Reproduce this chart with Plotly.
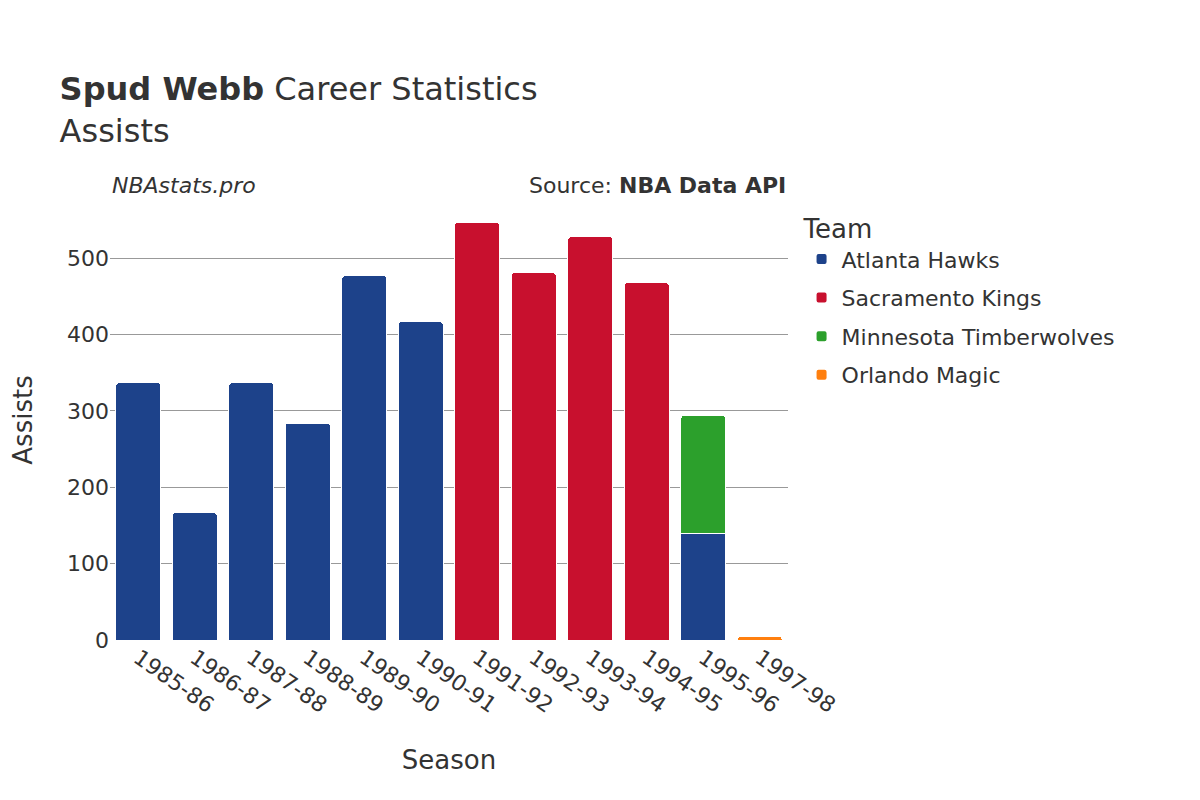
import plotly.graph_objects as go

seasons = ["1985-86","1986-87","1987-88","1988-89","1989-90","1990-91","1991-92","1992-93","1993-94","1994-95","1995-96","1997-98"]
hawks_s = ["1985-86","1986-87","1987-88","1988-89","1989-90","1990-91","1995-96"]
hawks_v = [337,167,337,284,477,417,140]
kings_s = ["1991-92","1992-93","1993-94","1994-95"]
kings_v = [547,481,528,468]
wolves_s = ["1995-96"]
wolves_v = [154]
magic_s = ["1997-98"]
magic_v = [5]

fig = go.Figure()
for name, xs, ys, c in [("Atlanta Hawks",hawks_s,hawks_v,"#1d428a"),
                        ("Sacramento Kings",kings_s,kings_v,"#c8102e"),
                        ("Minnesota Timberwolves",wolves_s,wolves_v,"#2ca02c"),
                        ("Orlando Magic",magic_s,magic_v,"#ff7f0e")]:
    fig.add_bar(x=xs, y=ys, name=name, legendgroup=name,
                marker=dict(color=c, line=dict(color="white", width=1)))

fig.update_layout(
    width=1200, height=800, barmode="stack", barcornerradius=4, bargap=0.2,
    plot_bgcolor="white", paper_bgcolor="white",
    font=dict(family="DejaVu Sans", size=22, color="#333"),
    title=dict(text="<b>Spud Webb</b> Career Statistics<br>Assists", x=0.043, y=0.885, xanchor="left", font=dict(size=32)),
    margin=dict(l=102, r=420, t=192, b=168),
    legend=dict(title=dict(text="Team", font=dict(size=26)), x=1.02, y=0.99, yanchor="top",
                traceorder="grouped", font=dict(size=22), itemsizing="constant", tracegroupgap=7),
    xaxis=dict(title=dict(text="Season", font=dict(size=26), standoff=33), categoryorder="array", categoryarray=seasons,
               tickangle=35, automargin=False, range=[-0.5, 11.5]),
    yaxis=dict(title=dict(text="Assists", font=dict(size=26), standoff=35), range=[0,576], gridcolor="#999", dtick=100, automargin=False),
    annotations=[
        dict(text="<i>NBAstats.pro</i>", x=0.0, y=1.0, xref="paper", yref="paper", xanchor="left", yanchor="bottom", showarrow=False, font=dict(size=22)),
        dict(text="Source: <b>NBA Data API</b>", x=1.0, y=1.0, xref="paper", yref="paper", xanchor="right", yanchor="bottom", showarrow=False, font=dict(size=22)),
    ],
)
fig.write_html("out.html")
